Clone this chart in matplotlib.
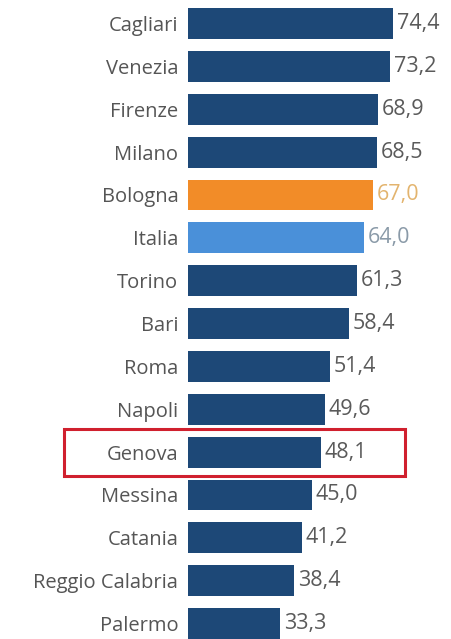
import matplotlib
matplotlib.use("Agg")
import matplotlib.pyplot as plt
from matplotlib.patches import Rectangle

cities = ["Cagliari", "Venezia", "Firenze", "Milano", "Bologna", "Italia", "Torino",
          "Bari", "Roma", "Napoli", "Genova", "Messina", "Catania", "Reggio Calabria", "Palermo"]
values = [74.4, 73.2, 68.9, 68.5, 67.0, 64.0, 61.3, 58.4, 51.4, 49.6, 48.1, 45.0, 41.2, 38.4, 33.3]
value_labels = ["74,4", "73,2", "68,9", "68,5", "67,0", "64,0", "61,3", "58,4", "51,4", "49,6",
                "48,1", "45,0", "41,2", "38,4", "33,3"]

NAVY = "#1d4877"
ORANGE = "#f28c28"
LIGHTBLUE = "#4a90d9"
bar_colors = [ORANGE if c == "Bologna" else LIGHTBLUE if c == "Italia" else NAVY for c in cities]
label_colors = ["#e3b46e" if c == "Bologna" else "#8a9aa8" if c == "Italia" else "#5a5a5a" for c in cities]

plt.rcParams['font.family'] = ['Open Sans', 'DejaVu Sans']

fig = plt.figure(figsize=(4.52, 6.39), dpi=100)
ax = fig.add_axes([188 / 452, 0, 1 - 188 / 452, 1])
y = list(range(len(cities)))
ax.barh(y, values, height=0.72, color=bar_colors)
ax.set_xlim(0, 95.8)
ax.set_ylim(14.36, -0.548)
ax.set_yticks(y)
ax.set_yticklabels(cities, fontsize=14.5, color="#555555")
ax.tick_params(axis="y", length=0, pad=7)
ax.set_xticks([])
for s in ax.spines.values():
    s.set_visible(False)

for yi, v, lab, col in zip(y, values, value_labels, label_colors):
    ax.text(v + 1.4, yi, lab, va="center", ha="left", fontsize=15.5, color=col)

gi = cities.index("Genova")
rect = Rectangle((-45.0, gi - 0.54), 123.8, 1.09, fill=False, edgecolor="#d0202e",
                 linewidth=2.2, clip_on=False)
ax.add_patch(rect)

fig.savefig("out.png", dpi=100, facecolor="white")
